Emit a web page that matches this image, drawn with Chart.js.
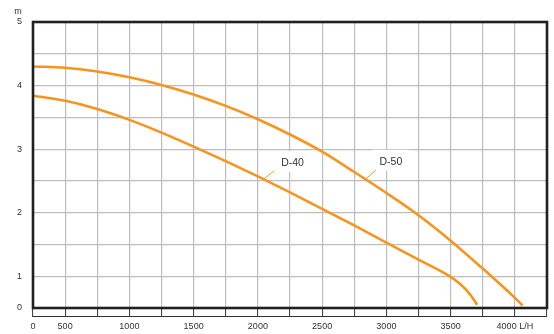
<!DOCTYPE html>
<html>
<head>
<meta charset="utf-8">
<script src="https://cdn.jsdelivr.net/npm/chart.js@4/dist/chart.umd.min.js"></script>
<style>
html,body{margin:0;padding:0;background:#fff;}
#wrap{width:554px;height:334px;}
</style>
</head>
<body>
<div id="wrap"><canvas id="c" width="554" height="334"></canvas></div>
<script>
// ---- data ----
const flowD40 = [250, 500, 750, 1000, 1250, 1500, 1750, 2000, 2250, 2500, 2750, 3000, 3250, 3500, 3567, 3619, 3656, 3707];
const headD40 = [3.84, 3.76, 3.63, 3.46, 3.26, 3.04, 2.81, 2.57, 2.32, 2.06, 1.80, 1.53, 1.26, 0.99, 0.89, 0.79, 0.70, 0.55];
const flowD50 = [250, 500, 750, 1000, 1250, 1500, 1750, 2000, 2250, 2500, 2750, 3000, 3250, 3500, 3750, 4000, 4060];
const headD50 = [4.30, 4.28, 4.22, 4.13, 4.01, 3.86, 3.68, 3.47, 3.23, 2.96, 2.64, 2.31, 1.96, 1.56, 1.12, 0.66, 0.54];
const seriesNames = ['D-40', 'D-50'];
const xTickValues = [250, 500, 1000, 1500, 2000, 2500, 3000, 3500, 4000];
const xTickLabels = ['0', '500', '1000', '1500', '2000', '2500', '3000', '3500', '4000 L/H'];
const yTickValues = [0.5, 1, 2, 3, 4, 5];
const yTickLabels = ['0', '1', '2', '3', '4', '5'];
const yUnit = 'm';

// label annotations (data coordinates)
const labelAnchors = [
  {text: 'D-40', x: 2270, y: 2.78, from: [2040, 2.52], to: [2128, 2.66]},
  {text: 'D-50', x: 3035, y: 2.80, from: [2840, 2.53], to: [2918, 2.67]}
];

const ORANGE = '#F7941E';
const TEXT = '#333333';
const FONT = '"Liberation Sans", Arial, Helvetica, sans-serif';

function pts(xs, ys){ return xs.map((x,i)=>({x:x, y:ys[i]})); }

const framePlugin = {
  id: 'frame',
  beforeDatasetsDraw(chart){
    const ctx = chart.ctx, xs = chart.scales.x, ys = chart.scales.y;
    ctx.save();
    ctx.font = '10.5px ' + FONT;
    labelAnchors.forEach(a=>{
      const px = xs.getPixelForValue(a.x), py = ys.getPixelForValue(a.y);
      const w = ctx.measureText(a.text).width;
      ctx.fillStyle = '#fff';
      ctx.fillRect(px - w/2 - 7, py - 12, w + 14, 21);
    });
    ctx.restore();
  },
  afterDatasetsDraw(chart){
    const ctx = chart.ctx, xs = chart.scales.x, ys = chart.scales.y, ca = chart.chartArea;
    ctx.save();
    ctx.font = '10.5px ' + FONT;
    ctx.fillStyle = TEXT;
    ctx.textAlign = 'center';
    ctx.textBaseline = 'middle';
    labelAnchors.forEach(a=>{
      ctx.fillText(a.text, xs.getPixelForValue(a.x), ys.getPixelForValue(a.y));
      ctx.strokeStyle = ORANGE;
      ctx.lineWidth = 1;
      ctx.beginPath();
      ctx.moveTo(xs.getPixelForValue(a.from[0]), ys.getPixelForValue(a.from[1]));
      ctx.lineTo(xs.getPixelForValue(a.to[0]), ys.getPixelForValue(a.to[1]));
      ctx.stroke();
    });
    ctx.strokeStyle = '#231F20';
    ctx.lineWidth = 2.6;
    ctx.strokeRect(ca.left, ca.top, ca.right - ca.left, ca.bottom - ca.top);
    ctx.lineWidth = 1;
    ctx.strokeStyle = '#333';
    ctx.beginPath();
    ctx.moveTo(ca.left, ca.bottom + 8.5);
    ctx.lineTo(ca.right, ca.bottom + 8.5);
    ctx.stroke();
    ctx.font = '9px ' + FONT;
    ctx.fillStyle = TEXT;
    ctx.textAlign = 'center';
    ctx.fillText(yUnit, 18, ca.top - 10);
    ctx.restore();
  }
};

new Chart(document.getElementById('c'), {
  type: 'line',
  data: {
    datasets: [
      {label: seriesNames[0], data: pts(flowD40, headD40)},
      {label: seriesNames[1], data: pts(flowD50, headD50)}
    ].map(d=>Object.assign(d, {
      borderColor: ORANGE, borderWidth: 2.6, pointRadius: 0, fill: false,
      cubicInterpolationMode: 'monotone', clip: false
    }))
  },
  options: {
    responsive: false,
    animation: false,
    layout: {padding: {top: 22, right: 7, left: 0, bottom: 0}},
    plugins: {legend: {display: false}, tooltip: {enabled: false}},
    scales: {
      x: {
        type: 'linear', min: 250, max: 4250,
        afterFit(s){ s.height = 26; },
        afterBuildTicks(s){ s.ticks = []; for (let v = 250; v <= 4250; v += 250) s.ticks.push({value: v}); },
        ticks: {
          autoSkip: false, maxRotation: 0, minRotation: 0, padding: 4,
          color: TEXT, font: {family: FONT, size: 9},
          callback(v){ const i = xTickValues.indexOf(v); return i >= 0 ? xTickLabels[i] : ''; }
        },
        grid: {color: '#BDBDBD', lineWidth: 1.2, drawTicks: true, tickLength: 9, tickColor: '#333', tickWidth: 1},
        border: {display: false}
      },
      y: {
        type: 'linear', min: 0.5, max: 5,
        afterFit(s){ s.width = 33; },
        afterBuildTicks(s){ s.ticks = []; for (let v = 0.5; v <= 5.001; v += 0.5) s.ticks.push({value: Math.round(v*10)/10}); },
        ticks: {
          autoSkip: false, padding: 11,
          color: TEXT, font: {family: FONT, size: 9},
          callback(v){ const i = yTickValues.indexOf(v); return i >= 0 ? yTickLabels[i] : ''; }
        },
        grid: {color: '#BDBDBD', lineWidth: 1.2, drawTicks: false},
        border: {display: false}
      }
    }
  },
  plugins: [framePlugin]
});
</script>
</body>
</html>
